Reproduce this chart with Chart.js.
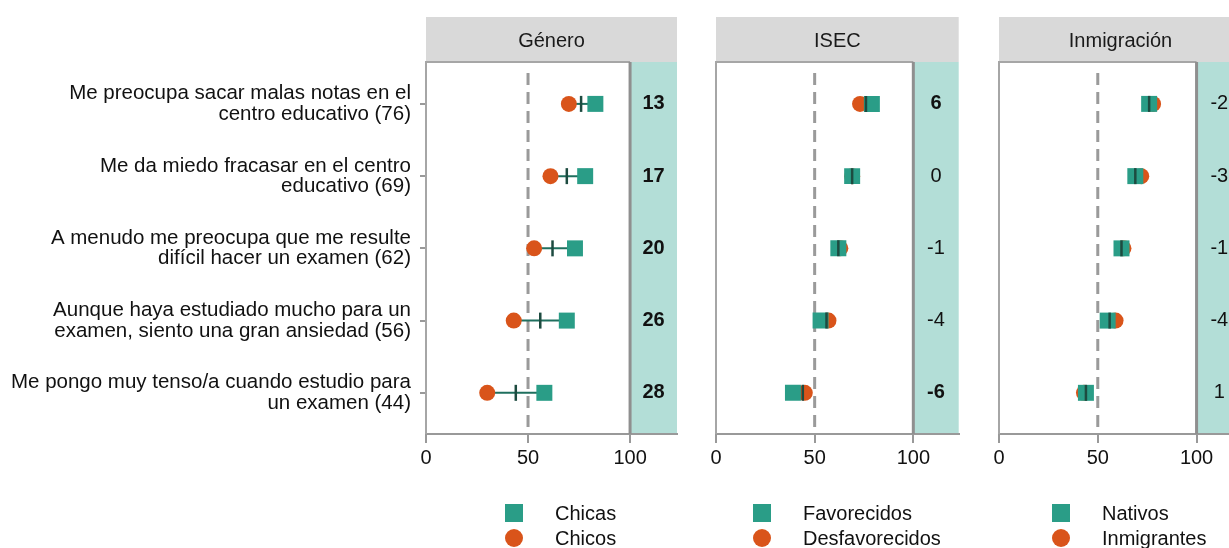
<!DOCTYPE html>
<html>
<head>
<meta charset="utf-8">
<script src="https://cdn.jsdelivr.net/npm/chart.js@4"></script>
<style>
  body { margin: 0; width: 1229px; height: 548px; overflow: hidden; background: #fff; position: relative; }
  canvas { position: absolute; top: 0; }
</style>
</head>
<body>
<canvas id="panelGenero" width="690" height="548" style="left:0"></canvas>
<canvas id="panelIsec" width="270" height="548" style="left:700px"></canvas>
<canvas id="panelInmig" width="280" height="548" style="left:980px"></canvas>
<script>
// datos
const preguntas = [
    ["Me preocupa sacar malas notas en el", "centro educativo (76)"],
    ["Me da miedo fracasar en el centro", "educativo (69)"],
    ["A menudo me preocupa que me resulte", "difícil hacer un examen (62)"],
    ["Aunque haya estudiado mucho para un", "examen, siento una gran ansiedad (56)"],
    ["Me pongo muy tenso/a cuando estudio para", "un examen (44)"]
];
const medias = [76, 69, 62, 56, 44];

const chicas = [83, 78, 73, 69, 58];
const chicos = [70, 61, 53, 43, 30];
const difGenero = [13, 17, 20, 26, 28];
const negritaGenero = [true, true, true, true, true];

const favorecidos = [79, 69, 62, 53, 39];
const desfavorecidos = [73, 69, 63, 57, 45];
const difIsec = [6, 0, -1, -4, -6];
const negritaIsec = [true, false, false, false, true];

const nativos = [76, 69, 62, 55, 44];
const inmigrantes = [78, 72, 63, 59, 43];
const difInmig = [-2, -3, -1, -4, 1];
const negritaInmig = [false, false, false, false, false];

const ticksX = [0, 50, 100];

const fuente = '"Liberation Sans", Arial, sans-serif';
const verde = '#2a9d87';
const naranja = '#d9541a';
Chart.defaults.font.family = fuente;

function crearPanel(id, cfg) {
    const aPuntos = arr => arr.map((v, i) => ({ x: v, y: i }));

    // cabecera, columna de diferencias, línea de 50 y leyenda
    const decor = {
        id: 'decor',
        beforeDraw(chart) {
            const { ctx, chartArea: a, scales: { x } } = chart;
            const x100 = x.getPixelForValue(100);
            ctx.save();
            ctx.fillStyle = '#d9d9d9';
            ctx.fillRect(a.left, 17, a.right - a.left, a.top - 17);
            ctx.fillStyle = '#1a1a1a';
            ctx.font = '20px ' + fuente;
            ctx.textAlign = 'center';
            ctx.textBaseline = 'middle';
            ctx.fillText(cfg.titulo, (a.left + a.right) / 2, 41);
            ctx.fillStyle = '#b3ded7';
            ctx.fillRect(x100, a.top, a.right - x100, a.bottom - a.top);
            ctx.restore();
        },
        beforeDatasetsDraw(chart) {
            const { ctx, chartArea: a, scales: { x, y } } = chart;
            const x100 = x.getPixelForValue(100);
            const x50 = x.getPixelForValue(50);
            ctx.save();
            // marco
            ctx.strokeStyle = '#a6a6a6';
            ctx.lineWidth = 2;
            ctx.beginPath();
            ctx.moveTo(a.left, a.bottom);
            ctx.lineTo(a.left, a.top);
            ctx.lineTo(x100, a.top);
            ctx.stroke();
            ctx.strokeStyle = '#8f8f8f';
            ctx.lineWidth = 3;
            ctx.beginPath();
            ctx.moveTo(x100, a.top);
            ctx.lineTo(x100, a.bottom);
            ctx.stroke();
            // línea discontinua en 50
            ctx.strokeStyle = '#9a9a9a';
            ctx.lineWidth = 3;
            ctx.setLineDash([12, 7]);
            ctx.beginPath();
            ctx.moveTo(x50, a.top + 11);
            ctx.lineTo(x50, a.bottom);
            ctx.stroke();
            ctx.setLineDash([]);
            // segmentos entre grupos
            ctx.strokeStyle = '#1f6f5e';
            ctx.lineWidth = 2;
            cfg.a.forEach((v, i) => {
                const py = y.getPixelForValue(i);
                ctx.beginPath();
                ctx.moveTo(x.getPixelForValue(v), py);
                ctx.lineTo(x.getPixelForValue(cfg.b[i]), py);
                ctx.stroke();
            });
            ctx.restore();
        },
        afterDraw(chart) {
            const { ctx, chartArea: a, scales: { x, y } } = chart;
            const xc = (x.getPixelForValue(100) + a.right) / 2;
            ctx.save();
            ctx.fillStyle = '#111';
            ctx.textAlign = 'center';
            ctx.textBaseline = 'middle';
            cfg.dif.forEach((d, i) => {
                ctx.font = (cfg.negrita[i] ? 'bold ' : '') + '20px ' + fuente;
                ctx.fillText(String(d), xc, y.getPixelForValue(i));
            });
            // leyenda
            const lx = a.left + cfg.leyendaX;
            ctx.fillStyle = verde;
            ctx.fillRect(lx, 504, 18, 18);
            ctx.fillStyle = naranja;
            ctx.beginPath();
            ctx.arc(lx + 9, 538, 9, 0, Math.PI * 2);
            ctx.fill();
            ctx.fillStyle = '#111';
            ctx.font = '20px ' + fuente;
            ctx.textAlign = 'left';
            ctx.fillText(cfg.nombreA, lx + 50, 514);
            ctx.fillText(cfg.nombreB, lx + 50, 539);
            ctx.restore();
        }
    };

    return new Chart(document.getElementById(id), {
        type: 'scatter',
        data: {
            datasets: [
                {
                    label: 'Media',
                    data: aPuntos(medias),
                    pointStyle: 'line',
                    rotation: 90,
                    pointRadius: 8,
                    borderColor: '#1d4b40',
                    borderWidth: 2.5
                },
                {
                    label: cfg.nombreA,
                    data: aPuntos(cfg.a),
                    pointStyle: 'rect',
                    pointRadius: 11.3,
                    backgroundColor: verde,
                    borderWidth: 0
                },
                {
                    label: cfg.nombreB,
                    data: aPuntos(cfg.b),
                    pointStyle: 'circle',
                    pointRadius: 8,
                    backgroundColor: naranja,
                    borderWidth: 0
                }
            ]
        },
        options: {
            responsive: false,
            animation: false,
            events: [],
            layout: { padding: cfg.padding },
            plugins: { legend: { display: false }, tooltip: { enabled: false } },
            scales: {
                x: {
                    type: 'linear',
                    min: 0,
                    max: 123,
                    afterBuildTicks: s => { s.ticks = ticksX.map(v => ({ value: v })); },
                    afterFit: s => { s.height = 114; },
                    grid: { drawOnChartArea: false, color: '#999', lineWidth: 2, tickLength: 9 },
                    border: { display: true, color: '#999', width: 2 },
                    ticks: { color: '#111', font: { size: 20 }, padding: 3, maxRotation: 0 }
                },
                y: {
                    type: 'linear',
                    reverse: true,
                    min: -0.58,
                    max: 4.57,
                    display: cfg.conEtiquetas,
                    afterBuildTicks: s => { s.ticks = preguntas.map((_, i) => ({ value: i })); },
                    afterFit: s => { s.width = cfg.anchoY; },
                    grid: { drawOnChartArea: false, color: '#999', lineWidth: 2, tickLength: 6 },
                    border: { display: false },
                    ticks: {
                        color: '#111',
                        font: { size: 20.5, lineHeight: 1.0 },
                        padding: 9,
                        callback: v => preguntas[v]
                    }
                }
            }
        },
        plugins: [decor]
    });
}

crearPanel('panelGenero', {
    titulo: 'Género', nombreA: 'Chicas', nombreB: 'Chicos',
    a: chicas, b: chicos, dif: difGenero, negrita: negritaGenero,
    conEtiquetas: true, anchoY: 426, leyendaX: 79,
    padding: { left: 0, right: 13, top: 62, bottom: 0 }
});
crearPanel('panelIsec', {
    titulo: 'ISEC', nombreA: 'Favorecidos', nombreB: 'Desfavorecidos',
    a: favorecidos, b: desfavorecidos, dif: difIsec, negrita: negritaIsec,
    conEtiquetas: false, anchoY: 0, leyendaX: 37,
    padding: { left: 16, right: 11, top: 62, bottom: 0 }
});
crearPanel('panelInmig', {
    titulo: 'Inmigración', nombreA: 'Nativos', nombreB: 'Inmigrantes',
    a: nativos, b: inmigrantes, dif: difInmig, negrita: negritaInmig,
    conEtiquetas: false, anchoY: 0, leyendaX: 53,
    padding: { left: 19, right: 18, top: 62, bottom: 0 }
});
</script>
</body>
</html>
